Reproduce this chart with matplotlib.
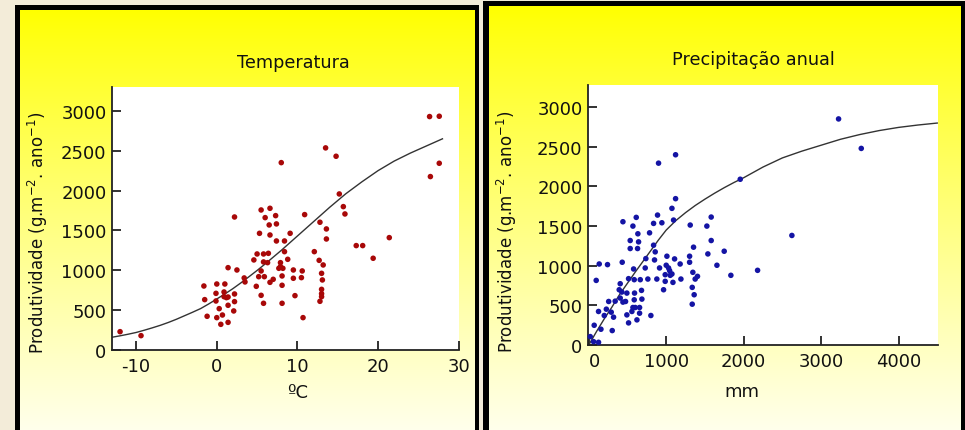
import numpy as np
import matplotlib
matplotlib.use("Agg")
import matplotlib.pyplot as plt
from matplotlib.patches import Rectangle
import matplotlib.transforms as mtransforms

plt.rcParams['axes.unicode_minus'] = False

# ---- data ----
temp_x = [-12.0, -9.4, -1.6, -1.5, -1.2, 0.0, -0.1, -0.1, 0.3, 0.0, 0.5, 0.7, 0.9, 1.0,
          0.9, 1.2, 1.4, 1.4, 1.4, 2.1, 2.2, 2.2, 1.4, 2.2, 2.5, 3.4, 3.5, 4.6, 5.0, 4.9,
          5.2, 5.5, 5.8, 5.5, 5.8, 5.8, 5.9, 5.3, 5.5, 6.0, 6.6, 6.5, 6.6, 6.4, 6.3, 6.6,
          7.0, 7.3, 7.4, 7.4, 7.9, 7.9, 7.7, 8.2, 8.4, 8.4, 8.1, 8.1, 8.1, 8.0, 8.8, 9.1,
          9.5, 9.5, 9.7, 10.6, 10.5, 10.7, 10.9, 12.1, 12.8, 12.7, 13.2, 13.0, 13.1, 13.0,
          13.0, 13.0, 12.8, 13.5, 13.6, 13.6, 14.8, 15.2, 15.7, 15.9, 17.3, 18.1, 19.4,
          21.4, 26.4, 27.6, 27.6, 26.5]
temp_y = [230, 180, 803, 632, 423, 828, 711, 615, 519, 406, 322, 439, 728, 828,
          669, 657, 665, 561, 347, 490, 607, 703, 1033, 1669, 1004, 904, 854, 1130, 1205, 799,
          920, 686, 586, 992, 1205, 1105, 920, 1464, 1757, 1661, 1778, 1569, 1443, 1213, 1096, 849,
          887, 1686, 1582, 1368, 1096, 1046, 1025, 1025, 1234, 1368, 929, 812, 586, 2351, 1138, 1464,
          1004, 900, 682, 992, 908, 406, 1699, 1234, 1603, 1125, 1067, 962, 879, 761,
          707, 669, 611, 2536, 1519, 1393, 2431, 1958, 1799, 1707, 1310, 1310, 1151,
          1410, 2929, 2933, 2343, 2176]

temp_curve_x = [-13, -12, -11, -10, -9, -8, -7, -6, -5, -4, -3, -2, -1, 0, 1, 2, 3, 4, 5, 6,
                7, 8, 9, 10, 11, 12, 13, 14, 15, 16, 17, 18, 19, 20, 21, 22, 23, 24, 25, 26,
                27, 28]
temp_curve_y = [160, 178, 198, 220, 248, 278, 310, 346, 386, 430, 474, 520, 578, 640, 703,
                770, 843, 920, 998, 1080, 1165, 1250, 1340, 1430, 1520, 1610, 1700, 1790,
                1875, 1960, 2035, 2110, 2180, 2250, 2310, 2370, 2420, 2470, 2515, 2560,
                2605, 2650]

prec_x = [19, 62, 126, 70, 126, 157, 96, 135, 242, 200, 257, 227, 290, 320, 303, 341,
          441, 432, 406, 393, 427, 406, 441, 475, 492, 492, 514, 514, 535, 535, 570, 579,
          587, 591, 587, 570, 557, 613, 634, 643, 630, 622, 600, 665, 681, 686, 656, 656,
          729, 737, 763, 785, 802, 837, 837, 858, 849, 879, 888, 901, 914, 944, 966, 987,
          987, 1000, 1009, 1030, 1044, 1052, 1074, 1087, 1074, 1095, 1108, 1121, 1121, 1180,
          1190, 1302, 1302, 1310, 1336, 1336, 1344, 1353, 1361, 1374, 1404, 1525, 1538, 1581,
          1581, 1655, 1749, 1835, 1956, 2180, 2623, 3226, 3519]
prec_y = [106, 42, 34, 249, 423, 199, 815, 1022, 1014, 372, 549, 452, 414, 351, 182, 553,
          1555, 1044, 773, 697, 668, 592, 541, 549, 655, 380, 837, 279, 1217, 1318, 1500, 959,
          824, 655, 570, 473, 423, 1610, 1403, 1301, 1217, 317, 473, 824, 689, 579, 473, 401,
          972, 1090, 832, 1415, 372, 1534, 1259, 1175, 1073, 832, 1639, 2294, 972, 1542, 697, 803,
          887, 1006, 1120, 972, 938, 879, 1724, 790, 896, 1576, 1086, 1846, 2400, 1022,
          832, 1044, 1120, 1513, 727, 515, 917, 1234, 634, 832, 866, 1500, 1149, 1614,
          1318, 1006, 1183, 879, 2091, 942, 1382, 2852, 2480]

prec_curve_x = [0, 50, 100, 150, 200, 300, 400, 500, 600, 700, 800, 900, 1000, 1125, 1250,
                1375, 1500, 1625, 1750, 1875, 2000, 2250, 2500, 2750, 3000, 3250, 3500,
                3750, 4000, 4250, 4500]
prec_curve_y = [0, 85, 170, 250, 330, 480, 640, 780, 920, 1055, 1190, 1325, 1450, 1570,
                1670, 1760, 1840, 1915, 1985, 2050, 2110, 2245, 2360, 2445, 2520, 2595,
                2655, 2705, 2745, 2775, 2800]

W, H = 965, 431
fig = plt.figure(figsize=(W / 100, H / 100), dpi=100)
fig.patch.set_facecolor('#f3ecd9')


def frac(x0, y0, x1, y1):
    # pixel box (top-left origin) -> figure fraction [l, b, w, h]
    return [x0 / W, (H - y1) / H, (x1 - x0) / W, (y1 - y0) / H]


grad = np.linspace(0, 1, 256) ** 0.9
rgb = np.ones((256, 1, 3))
rgb[:, 0, 2] = 0.94 * grad


def panel(outer, inner):
    fig.patches.append(Rectangle((outer[0] / W, (H - outer[3]) / H),
                                 (outer[2] - outer[0]) / W, (outer[3] - outer[1]) / H,
                                 transform=fig.transFigure, facecolor='black',
                                 edgecolor='none', zorder=0))
    bg = fig.add_axes(frac(*inner), zorder=1)
    bg.imshow(rgb, aspect='auto', extent=[0, 1, 0, 1], interpolation='bilinear')
    bg.set_axis_off()


panel((15, 6, 479, 440), (20, 11, 474, 440))
panel((483, 2, 968, 440), (489, 7, 961, 440))


def style(ax):
    ax.set_facecolor('white')
    for s in ['top', 'right']:
        ax.spines[s].set_visible(False)
    for s in ['left', 'bottom']:
        ax.spines[s].set_linewidth(1.3)
        ax.spines[s].set_color('#222222')
    ax.tick_params(direction='in', length=6.5, width=1.3, color='#222222',
                   labelsize=13, labelcolor='#111111')
    ax.tick_params(axis='x', pad=5)
    ax.tick_params(axis='y', pad=4)


ylab = r'Produtividade (g.m$^{-2}$. ano$^{-1}$)'

# left: temperature
ax1 = fig.add_axes(frac(112, 88, 459, 351), zorder=2)
style(ax1)
ax1.plot(temp_curve_x, temp_curve_y, color='#333333', lw=1.0, zorder=2)
ax1.scatter(temp_x, temp_y, s=16, color='#a80808', edgecolors='none', zorder=3, clip_on=False)
ax1.set_xlim(-13, 30.05)
ax1.set_ylim(0, 3300)
ax1.set_xticks([-10, 0, 10, 20, 30])
ax1.set_yticks([0, 500, 1000, 1500, 2000, 2500, 3000])

# right: precipitation
ax2 = fig.add_axes(frac(588, 86, 938, 346), zorder=2)
style(ax2)
ax2.plot(prec_curve_x, prec_curve_y, color='#333333', lw=1.0, zorder=2)
ax2.scatter(prec_x, prec_y, s=16, color='#1414a4', edgecolors='none', zorder=3, clip_on=False)
ax2.set_xlim(-10, 4510)
ax2.set_ylim(0, 3280)
ax2.set_xticks([0, 1000, 2000, 3000, 4000])
ax2.set_yticks([0, 500, 1000, 1500, 2000, 2500, 3000])
fig.canvas.draw()
lab0 = ax2.get_xticklabels()[0]
lab0.set_transform(lab0.get_transform() + mtransforms.ScaledTranslation(6 / 100, 0, fig.dpi_scale_trans))

# texts
fig.text(293 / W, (H - 63) / H, 'Temperatura', ha='center', va='center', fontsize=12.7, color='#111111', zorder=5)
fig.text(753 / W, (H - 60) / H, 'Precipitação anual', ha='center', va='center', fontsize=12.7, color='#111111', zorder=5)
fig.text(38 / W, (H - 233) / H, ylab, rotation=90, ha='center', va='center', fontsize=12, color='#111111', zorder=5)
fig.text(507 / W, (H - 232) / H, ylab, rotation=90, ha='center', va='center', fontsize=12, color='#111111', zorder=5)
fig.text(298 / W, (H - 393) / H, 'ºC', ha='center', va='center', fontsize=13, color='#111111', zorder=5)
fig.text(742 / W, (H - 392) / H, 'mm', ha='center', va='center', fontsize=13, color='#111111', zorder=5)

fig.savefig('out.png', dpi=100, facecolor=fig.get_facecolor())
